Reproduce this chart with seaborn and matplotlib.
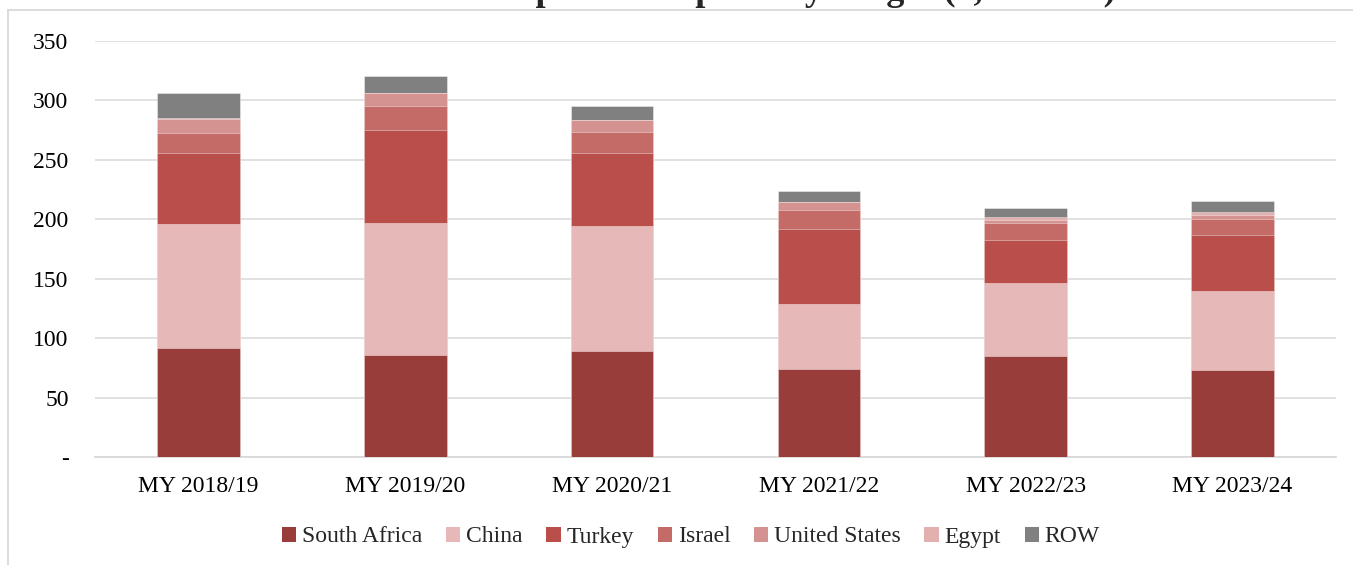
import matplotlib
matplotlib.use("Agg")
import matplotlib.pyplot as plt
from matplotlib.patches import Patch
from matplotlib.lines import Line2D
import seaborn as sns
import pandas as pd
import numpy as np

categories = ["MY 2018/19", "MY 2019/20", "MY 2020/21", "MY 2021/22", "MY 2022/23", "MY 2023/24"]
south_africa = [92.0, 85.6, 89.4, 73.8, 84.7, 73.4]
china = [104.3, 111.3, 104.9, 54.7, 61.7, 66.0]
turkey = [59.7, 78.2, 61.7, 63.1, 35.9, 47.6]
israel = [16.8, 20.5, 17.7, 16.2, 14.8, 13.0]
united_states = [11.7, 10.4, 9.8, 6.5, 2.6, 3.5]
egypt = [1.0, 0.3, 0.3, 0.3, 2.0, 2.4]
row = [20.5, 14.2, 11.3, 8.9, 7.5, 9.2]

series_names = ["South Africa", "China", "Turkey", "Israel", "United States", "Egypt", "ROW"]
series_values = [south_africa, china, turkey, israel, united_states, egypt, row]
series_colors = ["#993D3B", "#E6B8B7", "#B94E4B", "#C46A67", "#D49291", "#E2B0AF", "#808080"]
y_ticks = [0, 50, 100, 150, 200, 250, 300, 350]
y_tick_labels = ["-", "50", "100", "150", "200", "250", "300", "350"]
title = "EU Grapefruit Imports by Origin (1,000 MT)"

sns.set_theme(style="white")
plt.rcParams["font.family"] = ["Liberation Serif", "DejaVu Serif"]

df = pd.DataFrame({"year": categories})
cum = np.zeros(len(categories))
for name, vals in zip(series_names, series_values):
    cum = cum + np.array(vals)
    df[name] = cum.copy()

W, H = 1353, 565
fig = plt.figure(figsize=(W / 100, H / 100), dpi=100)
ax = fig.add_axes([95 / W, 1 - 457 / H, (1336 - 95) / W, (457 - 41) / H])

for name, color in reversed(list(zip(series_names, series_colors))):
    sns.barplot(data=df, x="year", y=name, color=color, width=0.4, saturation=1,
                errorbar=None, ax=ax, edgecolor=(1, 1, 1, 0.45), linewidth=0.6, zorder=3)

ax.set_xlim(-0.5, 5.5)
ax.set_ylim(0, 350)
ax.set_yticks(y_ticks, y_tick_labels)
ax.yaxis.grid(True, color="#D9D9D9", linewidth=1.1, zorder=0)
ax.set_axisbelow(True)
for s in ["top", "right", "left"]:
    ax.spines[s].set_visible(False)
ax.spines["bottom"].set_color("#D9D9D9")
ax.spines["bottom"].set_linewidth(1.3)
ax.set_xlabel("")
ax.set_ylabel("")
ax.tick_params(axis="y", length=0, pad=19, labelsize=17, labelcolor="#000000")
ax.tick_params(axis="x", length=0, pad=14, labelsize=17, labelcolor="#000000")

handles = [Patch(facecolor=c, edgecolor="none", label=n) for n, c in zip(series_names, series_colors)]
fig.legend(handles=handles, loc="center", bbox_to_anchor=(691 / W, 1 - 537 / H), ncol=7,
           frameon=False, fontsize=17, handlelength=0.6, handleheight=0.6,
           handletextpad=0.25, columnspacing=1.0, borderaxespad=0)

# chart frame (light gray), partly outside the visible area
fig.add_artist(Line2D([8 / W, 8 / W], [0, 1 - 10 / H], transform=fig.transFigure, color="#D9D9D9", linewidth=1.3))
fig.add_artist(Line2D([8 / W, 1], [1 - 10 / H, 1 - 10 / H], transform=fig.transFigure, color="#D9D9D9", linewidth=1.3))

# title, cut off at the top in the reference (only its descenders show)
fig.text(765 / W, 1 - 1 / H, title, ha="center", va="top", fontsize=26, fontweight="bold",
         transform=fig.transFigure)
t = fig.texts[-1]
fig.canvas.draw()
bb = t.get_window_extent()
# shift so that only the lowest ~7 px of the text remain inside the figure
t.set_y((H - 7 + bb.height) / H - 1 / H)

fig.savefig("out.png", dpi=100)
